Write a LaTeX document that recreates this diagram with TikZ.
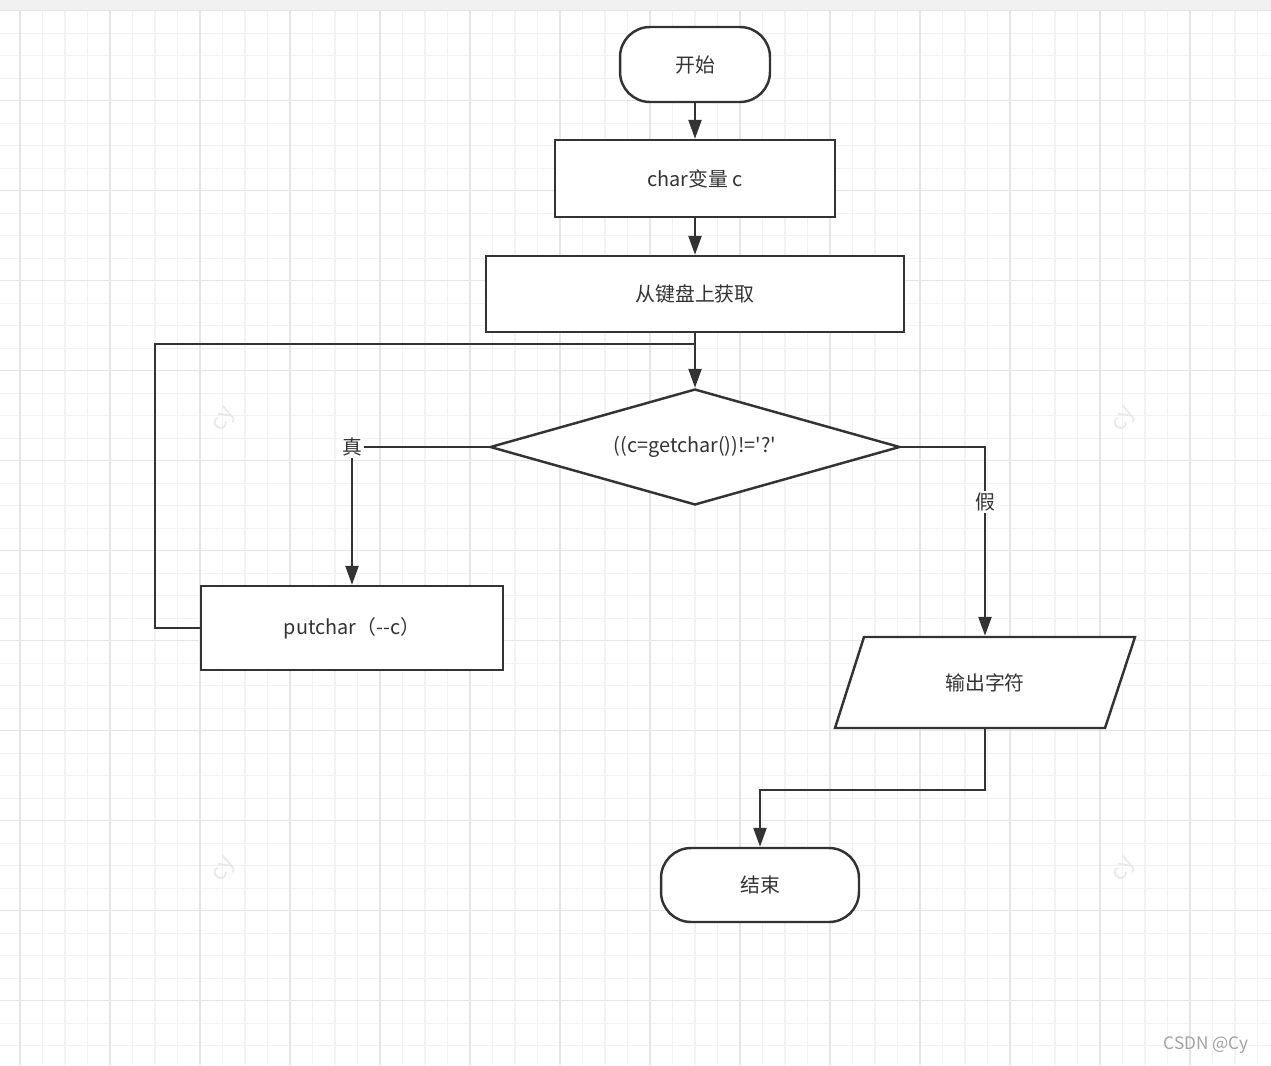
\documentclass[tikz,border=0pt]{standalone}
\usepackage{fontspec}
\newfontfamily\cjk{Noto Sans CJK SC}
\usetikzlibrary{arrows.meta,shapes.geometric,calc}
\definecolor{Ink}{HTML}{333333}
\definecolor{GridMinor}{HTML}{F2F2F2}
\definecolor{GridMajor}{HTML}{E5E5E5}
\definecolor{Band}{HTML}{F1F1F1}
\definecolor{Mark}{HTML}{E8E8E8}
\tikzset{
 box/.style={draw=Ink,line width=1.4pt,fill=white,text=Ink,inner sep=2pt,
   font=\cjk\fontsize{11.3}{13}\selectfont},
 terminal/.style={box,rounded corners=0.6cm},
 decision/.style={box,diamond,aspect=3.5,inner sep=0pt},
 io/.style={box,draw=none,fill=none,inner sep=0pt},
 arr/.style={-{Triangle[length=0.38cm,width=0.26cm]},line width=1.4pt,draw=Ink},
 wire/.style={line width=1.4pt,draw=Ink},
 lab/.style={fill=white,text=Ink,inner sep=1pt,font=\cjk\fontsize{11.3}{13}\selectfont},
 watermark/.style={text=Mark,rotate=60,inner sep=0pt,font=\cjk\fontsize{13}{14}\selectfont}
}
\begin{document}
\begin{tikzpicture}[x=0.02cm,y=-0.02cm]
\useasboundingbox (0,0) rectangle (1271,1065);
% background grid
\fill[white] (0,0) rectangle (1271,1065);
\fill[Band] (0,0) rectangle (1271,10);
\foreach \i in {0,...,55} {
  \draw[GridMinor,line width=0.6pt] ({20+22.5*\i},10.7) -- ({20+22.5*\i},1065);
}
\foreach \j in {0,...,46} {
  \draw[GridMinor,line width=0.6pt] (0,{10.7+22.5*\j}) -- (1271,{10.7+22.5*\j});
}
\foreach \i in {0,...,14} \draw[GridMajor,line width=0.7pt] ({20+90*\i},10.7) -- ({20+90*\i},1065);
\foreach \j in {0,...,11} \draw[GridMajor,line width=0.7pt] (0,{10.7+90*\j}) -- (1271,{10.7+90*\j});
\foreach \p in {(225,420),(1125,420),(225,870),(1125,870)} \node[watermark] at \p {cy};
\node[text=Ink!45,font=\cjk\fontsize{9.8}{11}\selectfont] (csdn) at (1206,1045) {CSDN @Cy};

% flow
\node[terminal,minimum width=3cm,minimum height=1.5cm] (start) at (695,64.5) {开始};
\node[box,minimum width=5.6cm,minimum height=1.54cm] (var) at (695,178.5) {char变量 c};
\node[box,minimum width=8.36cm,minimum height=1.52cm] (read) at (695,294) {从键盘上获取};
\node[decision,minimum width=8.2cm,minimum height=2.32cm] (test) at (695,447) {((c=getchar())!='?'};
\node[box,minimum width=6.04cm,minimum height=1.68cm] (put) at (352,628) {putchar（{-}{-}c）};
% parallelogram drawn round the output node
\coordinate (outc) at (985,682.5);
\draw[wire,fill=white] ($(outc)+(-150,45.5)$) -- ($(outc)+(-121,-45.5)$)
  -- ($(outc)+(150,-45.5)$) -- ($(outc)+(120,45.5)$) -- cycle;
\node[io,minimum width=5.4cm,minimum height=1.82cm] (out) at (outc) {输出字符};
\node[terminal,minimum width=3.96cm,minimum height=1.48cm] (stop) at (760,885) {结束};
\coordinate (join) at (695,344);

\draw[arr] (start)--(var);
\draw[arr] (var)--(read);
\draw[arr] (read)--(test);
\draw[wire] (put.west) -- ++(-45,0) |- (join);
\draw[arr] (test.west) -| node[lab,pos=0.5]{真} (put.north);
\draw[arr] (test.east) -| node[lab,pos=0.645]{假} (out.north);
\draw[arr] (out.south) -- ++(0,61) -| (stop.north);
\end{tikzpicture}
\end{document}
